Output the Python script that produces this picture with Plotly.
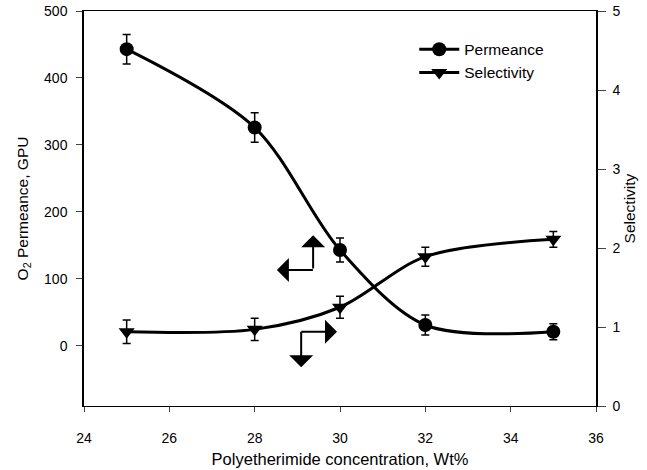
import plotly.graph_objects as go

conc = [25, 28, 30, 32, 35]
permeance = [443, 326, 143, 31, 21]
perm_err = [22, 22, 18, 15, 12]
selectivity = [0.94, 0.97, 1.25, 1.89, 2.11]
sel_err = [0.15, 0.14, 0.14, 0.12, 0.10]

x_ticks = [24, 26, 28, 30, 32, 34, 36]
left_ticks = [0, 100, 200, 300, 400, 500]
right_ticks = [0, 1, 2, 3, 4, 5]

FONT = "Arial, Liberation Sans, sans-serif"

fig = go.Figure()
fig.add_trace(go.Scatter(
    x=conc, y=permeance, name="Permeance", mode="lines+markers",
    line=dict(color="black", width=3, shape="spline", smoothing=0.9),
    marker=dict(symbol="circle", size=14, color="black"),
    error_y=dict(type="data", array=perm_err, color="black", thickness=1.5, width=4),
    yaxis="y",
))
fig.add_trace(go.Scatter(
    x=conc, y=selectivity, name="Selectivity", mode="lines+markers",
    line=dict(color="black", width=3, shape="spline", smoothing=0.9),
    marker=dict(symbol="triangle-down", size=14, color="black"),
    error_y=dict(type="data", array=sel_err, color="black", thickness=1.5, width=4),
    yaxis="y2",
))

# L-shaped arrows indicating axes
arrow_style = dict(showarrow=True, arrowhead=1, arrowsize=2.0, arrowwidth=2,
                   arrowcolor="black", text="", standoff=0, startstandoff=0)
# Permeance -> left axis
fig.add_annotation(x=29.37, y=165, ax=29.37, ay=113, xref="x", yref="y",
                   axref="x", ayref="y", **arrow_style)
fig.add_annotation(x=28.52, y=113, ax=29.40, ay=113, xref="x", yref="y",
                   axref="x", ayref="y", **arrow_style)
# Selectivity -> right axis
fig.add_annotation(x=29.93, y=0.94, ax=29.06, ay=0.94, xref="x", yref="y2",
                   axref="x", ayref="y2", **arrow_style)
fig.add_annotation(x=29.09, y=0.49, ax=29.09, ay=0.96, xref="x", yref="y2",
                   axref="x", ayref="y2", **arrow_style)

fig.update_layout(
    width=647, height=470,
    margin=dict(l=84, r=51, t=11, b=64, autoexpand=False),
    paper_bgcolor="white", plot_bgcolor="white",
    font=dict(family=FONT, size=14, color="black"),
    showlegend=True,
    legend=dict(x=0.645, y=0.945, xanchor="left", yanchor="top",
                bgcolor="rgba(0,0,0,0)", font=dict(size=15.5, family=FONT),
                itemwidth=40, tracegroupgap=0),
    xaxis=dict(range=[24, 36], tickvals=x_ticks, ticks="outside", ticklen=5,
               showline=True, linecolor="black", linewidth=1, mirror=True,
               showgrid=False, zeroline=False, ticklabelstandoff=14,
               automargin=False,
               title=dict(text="Polyetherimide concentration, Wt%",
                          font=dict(size=16.5), standoff=8)),
    yaxis=dict(range=[-90, 500], tickvals=left_ticks, ticks="outside", ticklen=6,
               showline=True, linecolor="black", linewidth=1.5,
               showgrid=False, zeroline=False, ticklabelstandoff=6,
               automargin=False,
               title=dict(text="O<sub>2</sub> Permeance, GPU",
                          font=dict(size=15.5), standoff=12)),
    yaxis2=dict(range=[0, 5], tickvals=right_ticks, ticks="outside", ticklen=8,
                overlaying="y", side="right", anchor="x",
                showline=True, linecolor="black", linewidth=1.5,
                showgrid=False, zeroline=False, ticklabelstandoff=4,
                automargin=False,
                title=dict(text="Selectivity", font=dict(size=15.5), standoff=2)),
)

fig.write_html("out.html")
